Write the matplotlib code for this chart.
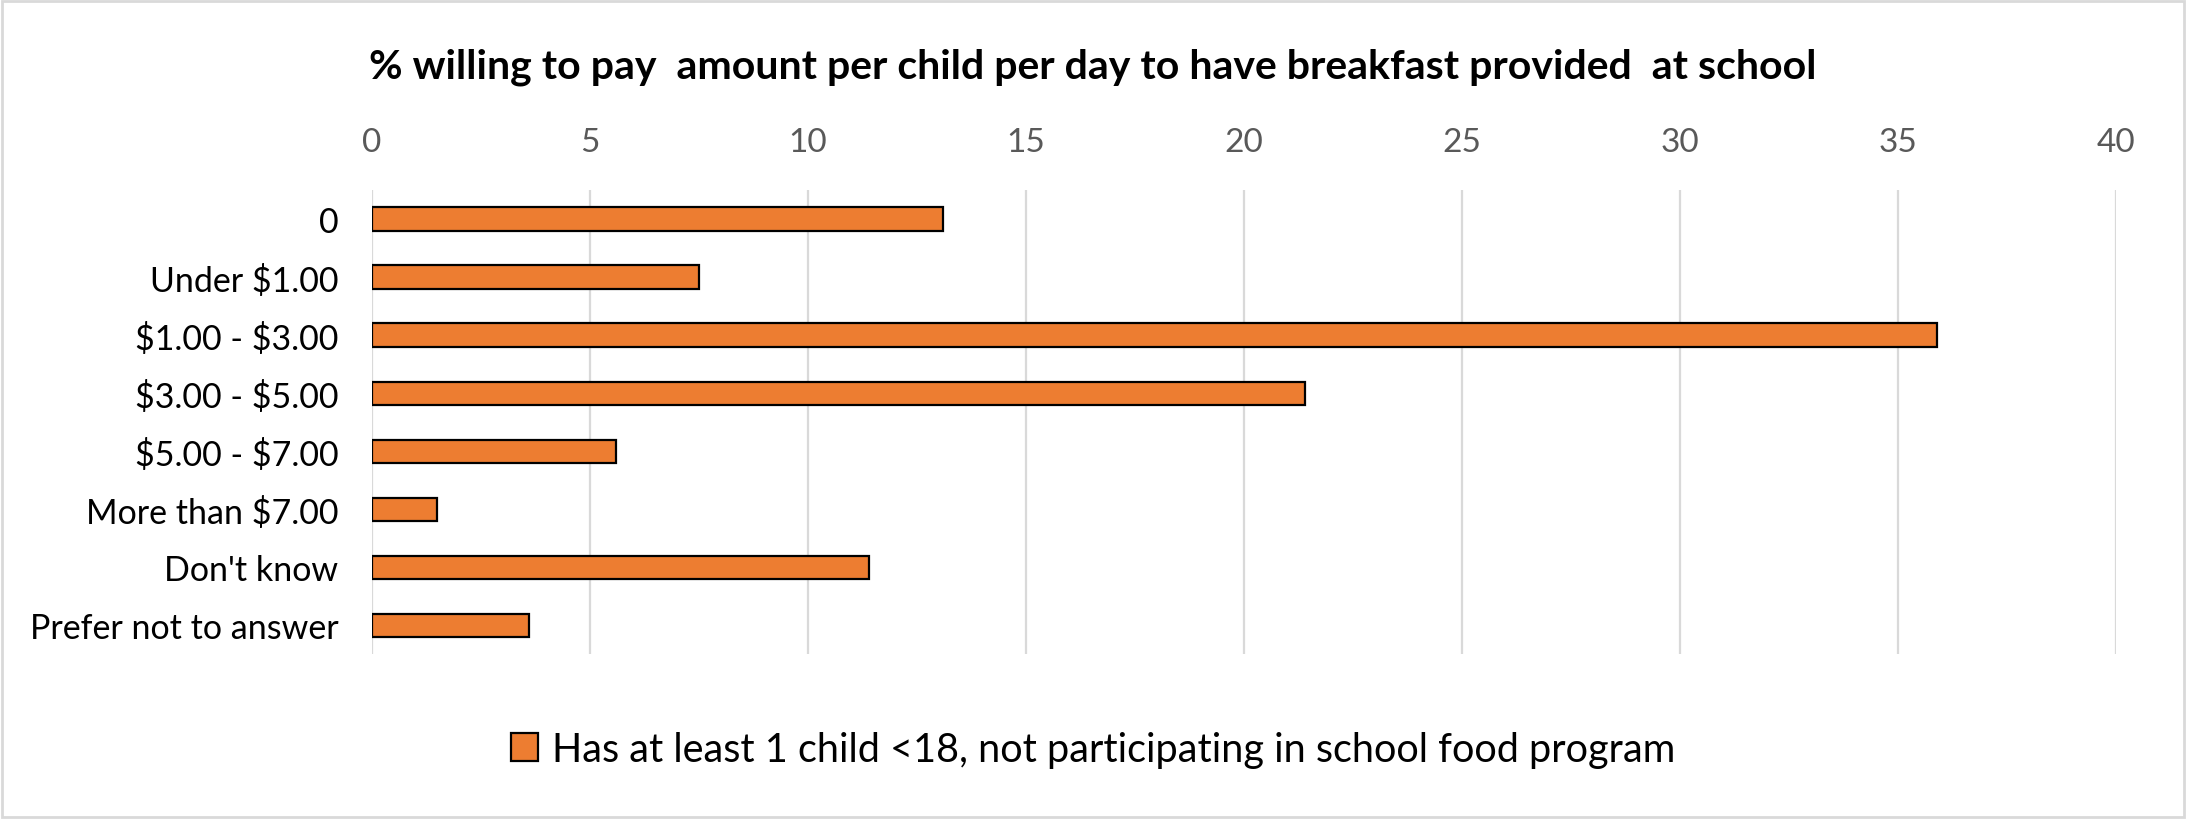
import matplotlib
matplotlib.use("Agg")
import matplotlib.pyplot as plt
from matplotlib.patches import Patch, Rectangle

categories = [
    "0",
    "Under $1.00",
    "$1.00 - $3.00",
    "$3.00 - $5.00",
    "$5.00 - $7.00",
    "More than $7.00",
    "Don't know",
    "Prefer not to answer",
]
values = [13.1, 7.5, 35.9, 21.4, 5.6, 1.5, 11.4, 3.6]
series_name = "Has at least 1 child <18, not participating in school food program"
title = "% willing to pay  amount per child per day to have breakfast provided  at school"
xticks = [0, 5, 10, 15, 20, 25, 30, 35, 40]

plt.rcParams["font.family"] = ["Lato", "DejaVu Sans"]
plt.rcParams["text.parse_math"] = False

fig = plt.figure(figsize=(21.86, 8.2), dpi=100)
ax = fig.add_axes([0.170, 0.201, 0.798, 0.566])

ypos = list(range(len(categories)))
ax.barh(ypos, values, height=0.4, color="#ED7D31", edgecolor="black",
        linewidth=1.6, zorder=3)

ax.set_xlim(0, 40)
ax.set_ylim(len(categories) - 0.5, -0.5)
ax.set_xticks(xticks)
ax.set_yticks(ypos)
ax.set_yticklabels(categories)
ax.xaxis.tick_top()
ax.tick_params(axis="x", length=0, pad=24, labelsize=24, labelcolor="#595959")
ax.tick_params(axis="y", length=0, pad=24, labelsize=24.5, labelcolor="black")
ax.grid(axis="x", color="#D9D9D9", linewidth=1.6, zorder=0)
for s in ax.spines.values():
    s.set_visible(False)

fig.text(0.5, 0.918, title, ha="center", va="center", fontsize=29.5,
         fontweight="bold")

ax.legend(handles=[Patch(facecolor="#ED7D31", edgecolor="black", linewidth=1.6,
                         label=series_name)],
          loc="center", bbox_to_anchor=(0.5, 0.085), bbox_transform=fig.transFigure,
          frameon=False, fontsize=28.5, handlelength=0.7, handleheight=0.7,
          handletextpad=0.35)

fig.patches.append(Rectangle((0.001, 0.002), 0.998, 0.996, transform=fig.transFigure,
                             fill=False, edgecolor="#D9D9D9", linewidth=2))

fig.savefig("out.png", dpi=100)
